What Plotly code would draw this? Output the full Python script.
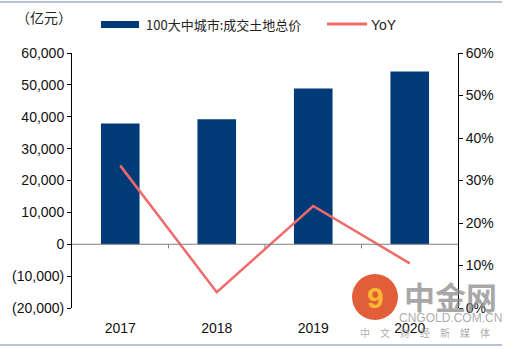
import plotly.graph_objects as go

years = ["2017", "2018", "2019", "2020"]
land_value = [37900, 39200, 48900, 54200]   # 亿元
yoy = [33.5, 3.7, 24.0, 10.5]               # %

bar_name = "100大中城市:成交土地总价"
line_name = "YoY"
unit_label = "（亿元）"

left_ticks = [-20000, -10000, 0, 10000, 20000, 30000, 40000, 50000, 60000]
left_text = ["(20,000)", "(10,000)", "0", "10,000", "20,000", "30,000", "40,000", "50,000", "60,000"]
right_ticks = [0, 10, 20, 30, 40, 50, 60]
right_text = [f"{v}%" for v in right_ticks]

BAR = "#003a78"
LINE = "#f26b6b"
FONT = "Liberation Sans, Arial, sans-serif"
CJK = "Noto Sans CJK SC"

fig = go.Figure()
fig.add_trace(go.Bar(x=years, y=land_value, name=bar_name, marker_color=BAR,
                     marker_line_width=0, yaxis="y", showlegend=False))
fig.add_trace(go.Scatter(x=years, y=yoy, name=line_name, mode="lines",
                         line=dict(color=LINE, width=2.5), yaxis="y2", showlegend=False))

def px(x):
    return (x - 72) / 386

def py(y):
    return (308 - y) / 255

shapes = []
shapes.append(dict(type="line", xref="paper", yref="y", x0=0, x1=1, y0=0, y1=0,
                   line=dict(color="#808080", width=1)))
for i in range(len(years) - 1):
    shapes.append(dict(type="line", xref="x", yref="y", x0=i + 0.5, x1=i + 0.5,
                       y0=0, y1=-1300, line=dict(color="#808080", width=1)))
shapes.append(dict(type="line", xref="paper", yref="paper", x0=px(0), x1=px(502), y0=py(2), y1=py(2),
                   line=dict(color="#6f86b0", width=1.2)))
shapes.append(dict(type="line", xref="paper", yref="paper", x0=px(0), x1=px(502), y0=py(345), y1=py(345),
                   line=dict(color="#6f86b0", width=1.2)))
shapes.append(dict(type="rect", xref="paper", yref="paper", x0=px(101), x1=px(139),
                   y0=py(28), y1=py(21), fillcolor=BAR, line=dict(width=0)))
shapes.append(dict(type="line", xref="paper", yref="paper", x0=px(327), x1=px(367),
                   y0=py(24), y1=py(24), line=dict(color=LINE, width=3)))
shapes.append(dict(type="circle", xref="paper", yref="paper",
                   x0=px(352), x1=px(398), y0=py(320), y1=py(274),
                   fillcolor="rgba(222,72,28,0.88)", line=dict(width=0), layer="above"))

annotations = [
    dict(text=unit_label, xref="paper", yref="paper", x=px(14), y=py(17),
         xanchor="left", yanchor="middle", showarrow=False, font=dict(family=CJK, size=14, color="#222")),
    dict(text=bar_name, xref="paper", yref="paper", x=px(144), y=py(25),
         xanchor="left", yanchor="middle", showarrow=False, font=dict(family=CJK, size=13, color="#222")),
    dict(text=line_name, xref="paper", yref="paper", x=px(369), y=py(25),
         xanchor="left", yanchor="middle", showarrow=False, font=dict(family=FONT, size=14, color="#222")),
    dict(text="<b>9</b>", xref="paper", yref="paper", x=px(375), y=py(297),
         xanchor="center", yanchor="middle", showarrow=False,
         font=dict(family=FONT, size=30, color="rgba(255,190,50,0.95)")),
    dict(text="<b>中金网</b>", xref="paper", yref="paper", x=px(450), y=py(295),
         xanchor="center", yanchor="middle", showarrow=False,
         font=dict(family=CJK, size=31, color="rgba(140,140,140,0.75)")),
    dict(text="CNGOLD.COM.CN", xref="paper", yref="paper", x=px(450), y=py(318),
         xanchor="center", yanchor="middle", showarrow=False,
         font=dict(family=FONT, size=12, color="rgba(150,150,150,0.8)")),
    dict(text="中　文　财　经　新　媒　体", xref="paper", yref="paper", x=px(425), y=py(332),
         xanchor="center", yanchor="middle", showarrow=False,
         font=dict(family=CJK, size=10, color="rgba(150,150,150,0.8)")),
]

fig.update_layout(
    width=510, height=349,
    margin=dict(l=72, r=52, t=53, b=41),
    paper_bgcolor="white", plot_bgcolor="white",
    bargap=0.6,
    font=dict(family=FONT, size=13, color="#111"),
    xaxis=dict(type="category", showgrid=False, showline=False, zeroline=False,
               ticks="outside", ticklen=7, tickcolor="rgba(0,0,0,0)",
               tickfont=dict(size=14), range=[-0.5, 3.5]),
    yaxis=dict(range=[-20000, 60000], tickvals=left_ticks, ticktext=left_text,
               showgrid=False, zeroline=False, showline=True, linecolor="#000", linewidth=1,
               ticks="outside", ticklen=4, tickcolor="#000", tickfont=dict(size=14)),
    yaxis2=dict(range=[0, 60], tickvals=right_ticks, ticktext=right_text, overlaying="y", side="right",
                showgrid=False, zeroline=False, showline=True, linecolor="#000", linewidth=1,
                ticks="outside", ticklen=4, tickcolor="#000", tickfont=dict(size=14)),
    shapes=shapes,
    annotations=annotations,
    showlegend=False,
)

fig.write_html("out.html")
